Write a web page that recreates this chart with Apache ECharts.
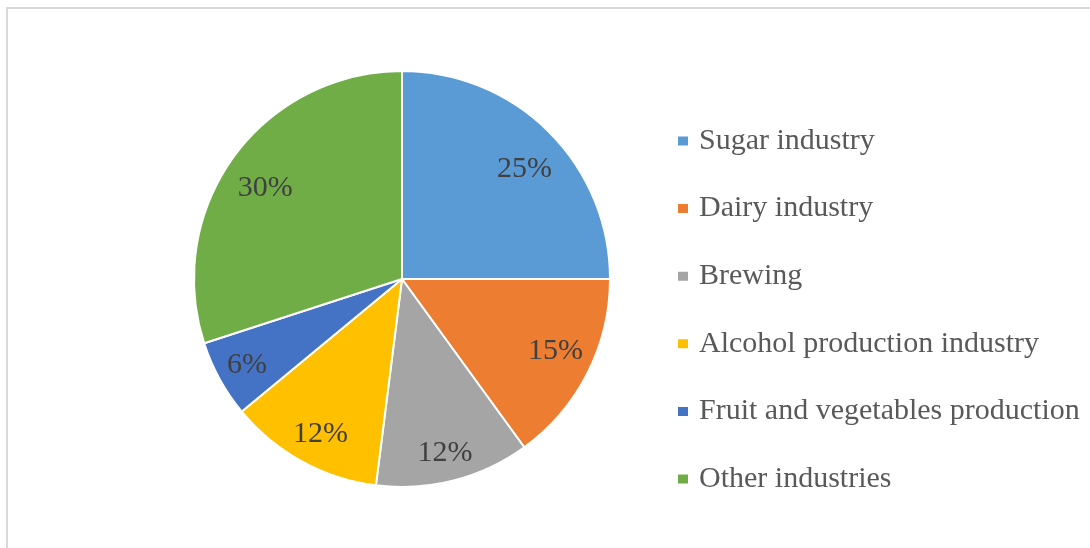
<!DOCTYPE html>
<html>
<head>
<meta charset="utf-8">
<script src="https://cdn.jsdelivr.net/npm/echarts@6/dist/echarts.min.js"></script>
<style>
  html, body { margin: 0; padding: 0; background: #fff; }
  #chart { width: 1090px; height: 548px; }
</style>
</head>
<body>
<div id="chart"></div>
<script>
// Industry shares (%)
const categories = [
  'Sugar industry',
  'Dairy industry',
  'Brewing',
  'Alcohol production industry',
  'Fruit and vegetables production',
  'Other industries'
];
const shares = [25, 15, 12, 12, 6, 30];
const colors = ['#5B9BD5', '#ED7D31', '#A5A5A5', '#FFC000', '#4472C4', '#70AD47'];
// small nudges of each percent label away from the slice bisector
const labelNudges = [[3, 10], [3, -5], [1, 10], [0, 7], [-7, 5], [0, 8]];

const pieData = categories.map((name, i) => ({
  name: name,
  value: shares[i],
  itemStyle: { color: colors[i] }
}));

const chart = echarts.init(document.getElementById('chart'), null, { renderer: 'canvas' });
const serif = '"Liberation Serif", "Times New Roman", serif';
const center = [402, 279];

chart.setOption({
  animation: false,
  backgroundColor: '#fff',
  graphic: [
    // frame lines along the top and left edges
    { type: 'line', shape: { x1: 6, y1: 8, x2: 1090, y2: 8 }, style: { stroke: '#d9d9d9', lineWidth: 2 } },
    { type: 'line', shape: { x1: 7, y1: 8, x2: 7, y2: 548 }, style: { stroke: '#d9d9d9', lineWidth: 2 } }
  ],
  legend: {
    orient: 'vertical',
    left: 676,
    top: 126,
    padding: 0,
    icon: 'rect',
    itemWidth: 12,
    itemHeight: 11,
    itemGap: 37.6,
    selectedMode: false,
    data: categories,
    textStyle: {
      fontFamily: serif,
      fontSize: 30,
      lineHeight: 30,
      color: '#595959',
      padding: [0, 0, 0, 5]
    }
  },
  series: [
    {
      type: 'pie',
      center: center,
      radius: [0, 208],
      startAngle: 90,
      clockwise: true,
      silent: true,
      itemStyle: { borderColor: '#fff', borderWidth: 2 },
      label: { show: false },
      labelLine: { show: false },
      data: pieData
    },
    {
      // transparent ring that places the percent labels near the rim
      type: 'pie',
      center: center,
      radius: [124, 208],
      startAngle: 90,
      clockwise: true,
      silent: true,
      itemStyle: { color: 'rgba(0,0,0,0)' },
      label: {
        show: true,
        position: 'inside',
        formatter: '{c}%',
        fontFamily: serif,
        fontSize: 30,
        color: '#404040'
      },
      labelLine: { show: false },
      data: categories.map((name, i) => ({
        name: name,
        value: shares[i],
        label: { offset: labelNudges[i] }
      }))
    }
  ]
});
</script>
</body>
</html>
